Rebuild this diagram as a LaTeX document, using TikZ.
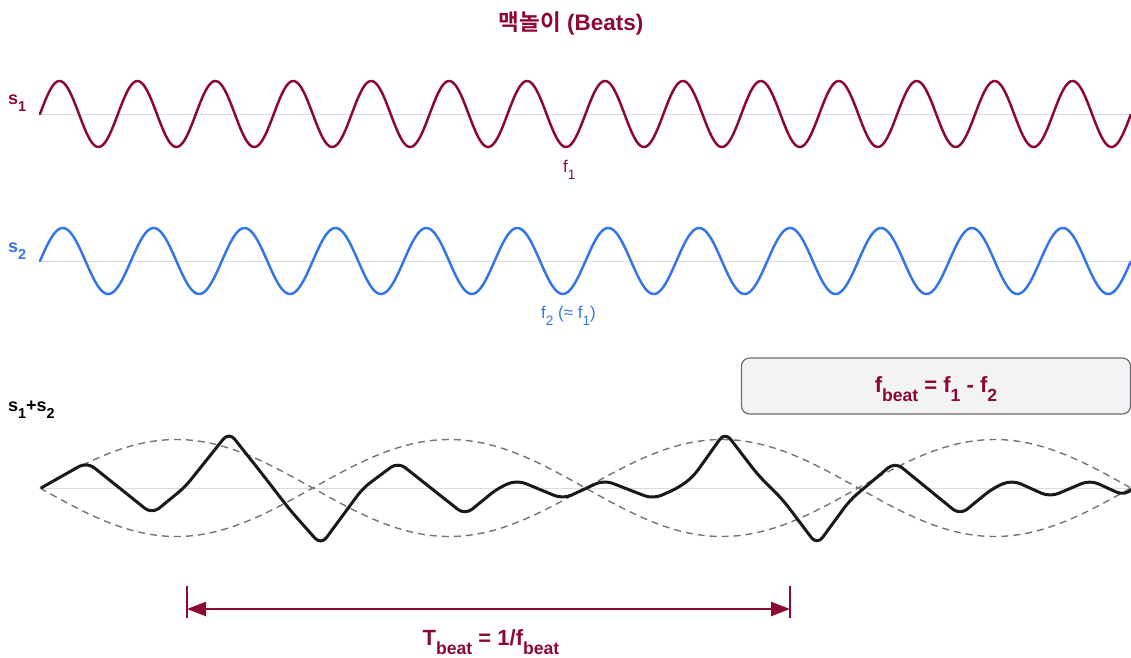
\documentclass[tikz,border=0pt]{standalone}
\usepackage{fontspec}
\setmainfont{Liberation Sans}
\newfontfamily\kr{Noto Sans CJK KR}[BoldFont={Noto Sans CJK KR Bold}]
\usetikzlibrary{arrows.meta}
\definecolor{wine}{RGB}{139,10,50}
\definecolor{sblue}{RGB}{52,118,232}
\definecolor{axisgray}{RGB}{220,220,224}
\definecolor{envgray}{RGB}{110,116,130}
\definecolor{boxfill}{RGB}{242,243,245}
\definecolor{boxline}{RGB}{110,110,115}
\newcommand\lo[1]{\raisebox{-0.42em}{\scalebox{0.8}{#1}}}
\tikzset{
  baseline axis/.style={draw=axisgray, line width=1pt},
  wave/.style={line width=2.5pt, line join=round, line cap=round},
  envelope/.style={draw=envgray, line width=1.4pt, dash pattern=on 7pt off 5pt},
  lbl/.style={inner sep=0pt, font=\bfseries},
  sumwave/.style={draw=black!90, line width=3pt, rounded corners=9pt, line join=round},
  dimline/.style={draw=wine, line width=2.5pt}
}
\begin{document}
\begin{tikzpicture}[x=1pt,y=-1pt]
\useasboundingbox (0,0) rectangle (1131,657);
% title
\node[lbl, text=wine, font=\fontsize{22.5}{26}\selectfont\bfseries] (title) at (571,23) {{\kr 맥놀이} (Beats)};
% axes
\coordinate (a1s) at (40,114); \coordinate (a1e) at (1131,114);
\coordinate (a2s) at (40,261); \coordinate (a2e) at (1131,261);
\coordinate (a3s) at (40,488); \coordinate (a3e) at (1131,488);
\draw[baseline axis] (a1s) -- (a1e);
\draw[baseline axis] (a2s) -- (a2e);
\draw[baseline axis] (a3s) -- (a3e);
% s1
\draw[wave, wine] plot[domain=0:1, samples=800, variable=\t] ({40+1091*\t},{114-33*sin(5040*\t)});
\node[lbl, text=wine, anchor=base west, font=\fontsize{18}{20}\selectfont\bfseries] (s1) at (8,104) {s\lo{1}};
\node[lbl, text=wine, anchor=base west, font=\fontsize{17}{20}\selectfont] (f1) at (563,172) {f\lo{1}};
% s2
\draw[wave, sblue] plot[domain=0:1, samples=800, variable=\t] ({40+1091*\t},{261-33*sin(4320*\t)});
\node[lbl, text=sblue, anchor=base west, font=\fontsize{18}{20}\selectfont\bfseries] (s2) at (8,252) {s\lo{2}};
\node[lbl, text=sblue, anchor=base west, font=\fontsize{17}{20}\selectfont] (f2) at (541,318) {f\lo{2} (≈ f\lo{1})};
% sum
\node[lbl, text=black, anchor=base west, font=\fontsize{18}{20}\selectfont\bfseries] (s12) at (8,411) {s\lo{1}+s\lo{2}};
\draw[envelope] plot[domain=0:1, samples=300, variable=\t] ({40+1091*\t},{488-48.5*sin(720*\t)});
\draw[envelope] plot[domain=0:1, samples=300, variable=\t] ({40+1091*\t},{488+48.5*sin(720*\t)});
\draw[sumwave] (41,488) -- (87,462) -- (152,514) -- (185,487) -- (229,432) -- (263,475) -- (290,510)
  -- (321,545) -- (363,488) -- (398,462) -- (465,515) -- (498,488) -- (517,480) -- (563,499)
  -- (604,480) -- (653,499) -- (678,488) -- (693,477) -- (725,432) -- (758,475) -- (783,500)
  -- (817,545) -- (850,500) -- (895,462) -- (960,515) -- (993,488) -- (1012,480) -- (1050,497)
  -- (1090,480) -- (1125,496) -- (1131,490);
% formula box
\node[draw=boxline, fill=boxfill, line width=1.2pt, rounded corners=8pt,
      minimum width=389pt, minimum height=56pt, inner sep=0pt] (box) at (936,386) {};
\node[lbl, text=wine, anchor=base, font=\fontsize{22}{26}\selectfont\bfseries] (fbeat) at (936,392)
  {f\lo{beat} = f\lo{1} - f\lo{2}};
% beat period
\coordinate (tA) at (187,609); \coordinate (tB) at (790,609);
\coordinate (tAt) at (187,586); \coordinate (tAb) at (187,618);
\coordinate (tBt) at (790,586); \coordinate (tBb) at (790,618);
\draw[dimline, line width=1.5pt] (tAt) -- (tAb);
\draw[dimline, line width=1.5pt] (tBt) -- (tBb);
\draw[dimline, {Triangle[length=19pt,width=14pt]}-{Triangle[length=19pt,width=14pt]}] (tA) -- (tB);
\node[lbl, text=wine, anchor=base, font=\fontsize{22}{26}\selectfont\bfseries] (tbeat) at (491,645)
  {T\lo{beat} = 1/f\lo{beat}};
\end{tikzpicture}
\end{document}
